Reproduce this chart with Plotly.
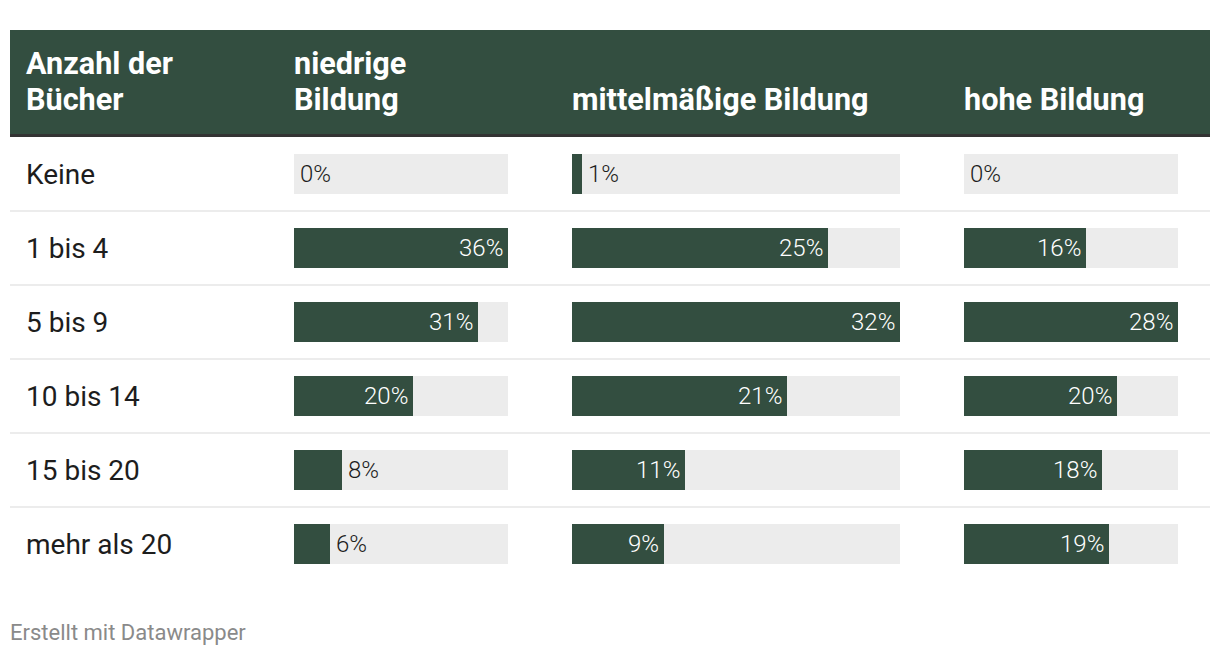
import plotly.graph_objects as go

# ---- data ----
categories = ["Keine", "1 bis 4", "5 bis 9", "10 bis 14", "15 bis 20", "mehr als 20"]
niedrige = [0, 36, 31, 20, 8, 6]
mittel = [1, 25, 32, 21, 11, 9]
hohe = [0, 16, 28, 20, 18, 19]
series = [niedrige, mittel, hohe]
column_titles = [["niedrige", "Bildung"], ["mittelmäßige Bildung"], ["hohe Bildung"]]
first_header = ["Anzahl der", "Bücher"]
footer = "Erstellt mit Datawrapper"

# ---- style ----
OFF = 8  # page body margin
W, H = 1220 - OFF, 656 - OFF
GREEN = "#334e40"
BG = "#ececec"
FONT = "Roboto"
col_px = [(294, 508), (572, 900), (964, 1178)]  # x extents in pixels (window coords)
row0_px, row_step = 174, 74
bar_px = 40
PAD = 2  # annotation inner padding

def px_x(p):
    return (p - OFF) / W

def px_y(p):
    return 1 - (p - OFF) / H

y_top = (OFF - row0_px) / row_step
y_bot = (656 - row0_px) / row_step
bar_w = bar_px / row_step


def header_lines(x, lines):
    out = []
    n = len(lines)
    for j, line in enumerate(lines):
        cy = 99 - (n - 1 - j) * 36
        out.append(dict(
            x=px_x(x - PAD), y=px_y(cy), xref="paper", yref="paper", text=f"<b>{line}</b>",
            showarrow=False, xanchor="left", yanchor="middle", align="left",
            font=dict(family=FONT, size=30.6, color="#ffffff")))
    return out


fig = go.Figure()
axes = ["x", "x2", "x3"]
layout_axes = {}
annotations = []
for i, (vals, (x0, x1)) in enumerate(zip(series, col_px)):
    vmax = max(vals)
    xa = axes[i]
    fig.add_trace(go.Bar(y=categories, x=[vmax] * len(vals), orientation="h",
                         marker=dict(color=BG, line=dict(width=0)), width=bar_w,
                         xaxis=xa, yaxis="y", hoverinfo="skip", showlegend=False))
    fig.add_trace(go.Bar(y=categories, x=vals, orientation="h",
                         marker=dict(color=GREEN, line=dict(width=0)), width=bar_w,
                         xaxis=xa, yaxis="y", showlegend=False,
                         hovertemplate="%{y}: %{x}%<extra></extra>"))
    key = "xaxis" if i == 0 else f"xaxis{i+1}"
    layout_axes[key] = dict(domain=[px_x(x0), px_x(x1)], range=[0, vmax],
                            visible=False, fixedrange=True, anchor="y")
    pxw = x1 - x0
    for c, v in zip(categories, vals):
        inside = v / vmax * pxw > 60
        annotations.append(dict(
            x=v, y=c, xref=xa, yref="y", text=f"{v}%", showarrow=False,
            xanchor="right" if inside else "left", xshift=-3 if inside else 4,
            yanchor="middle",
            font=dict(family=FONT, size=24, weight=300,
                      color="#ffffff" if inside else "#1d1d1d")))
    annotations += header_lines(x0, column_titles[i])

annotations += header_lines(26, first_header)

# row labels
for c in categories:
    annotations.append(dict(
        x=px_x(26 - PAD), y=c, xref="paper", yref="y", text=c, showarrow=False,
        xanchor="left", yanchor="middle",
        font=dict(family=FONT, size=28, color="#1d1d1d")))

# footer
annotations.append(dict(
    x=px_x(10 - PAD), y=px_y(632), xref="paper", yref="paper", text=footer, showarrow=False,
    xanchor="left", yanchor="middle", font=dict(family=FONT, size=22, color="#8a8a8a")))

shapes = [
    dict(type="rect", xref="paper", yref="paper", x0=px_x(10), x1=px_x(1210),
         y0=px_y(134), y1=px_y(30), fillcolor=GREEN, line=dict(width=0), layer="below"),
    dict(type="rect", xref="paper", yref="paper", x0=px_x(10), x1=px_x(1210),
         y0=px_y(137), y1=px_y(134), fillcolor="#333333", line=dict(width=0), layer="below"),
]
for k in range(len(categories) - 1):
    shapes.append(dict(type="line", xref="paper", yref="y", x0=px_x(10), x1=px_x(1210),
                       y0=k + 0.5, y1=k + 0.5, line=dict(color="#ececec", width=2), layer="below"))

fig.update_layout(
    width=W, height=H, margin=dict(l=0, r=0, t=0, b=0),
    paper_bgcolor="#ffffff", plot_bgcolor="rgba(0,0,0,0)",
    barmode="overlay", bargap=0,
    yaxis=dict(domain=[0, 1], range=[y_bot, y_top], visible=False, fixedrange=True,
               type="category", categoryorder="array", categoryarray=categories),
    annotations=annotations, shapes=shapes, font=dict(family=FONT),
    **layout_axes,
)

fig.write_html("out.html", config={"displayModeBar": False})
